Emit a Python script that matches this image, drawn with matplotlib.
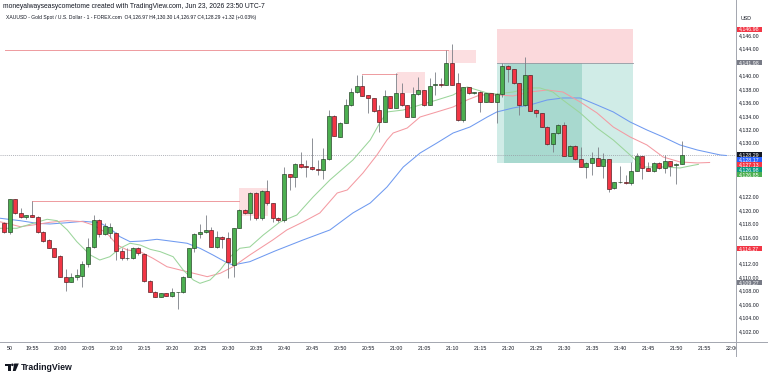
import matplotlib
matplotlib.use("Agg")
import matplotlib.pyplot as plt
from matplotlib.patches import Rectangle, Polygon, Circle

# one-minute XAUUSD bars from 19:50 to 21:51
opens = [4118.18, 4116.84, 4121.70, 4119.57, 4118.97, 4119.37, 4119.07, 4116.84, 4115.60, 4114.36,
         4113.22, 4110.15, 4109.40, 4110.05, 4110.29, 4111.98, 4114.56, 4118.58, 4116.45, 4116.59,
         4116.59, 4114.01, 4112.87, 4112.87, 4114.46, 4113.52, 4109.50, 4107.91, 4107.17, 4107.67,
         4107.32, 4107.81, 4107.86, 4110.15, 4114.36, 4116.45, 4116.74, 4117.09, 4114.61, 4116.10,
         4115.85, 4111.88, 4117.44, 4120.07, 4119.57, 4122.54, 4118.82, 4122.94, 4121.05, 4118.92,
         4118.57, 4125.37, 4124.92, 4126.91, 4126.51, 4126.51, 4126.11, 4126.01, 4127.60, 4134.05,
         4130.98, 4133.06, 4135.64, 4137.57, 4138.56, 4137.18, 4136.68, 4134.94, 4133.21, 4137.03,
         4135.29, 4137.52, 4135.64, 4133.95, 4137.28, 4137.92, 4135.69, 4138.66, 4138.71, 4138.66,
         4141.89, 4138.91, 4133.46, 4138.32, 4137.42, 4137.67, 4136.19, 4137.43, 4136.19, 4137.33,
         4141.54, 4141.00, 4138.92, 4135.69, 4140.16, 4134.95, 4134.45, 4132.47, 4129.84, 4131.48,
         4132.72, 4128.15, 4129.59, 4127.61, 4126.51, 4127.01, 4127.85, 4126.66, 4127.61, 4123.29,
         4124.18, 4124.28, 4124.03, 4125.92, 4128.10, 4126.27, 4125.87, 4127.01, 4126.27, 4127.36,
         4126.70, 4126.97]
highs = [4118.33, 4121.75, 4121.75, 4120.31, 4119.32, 4121.45, 4119.17, 4116.90, 4115.70, 4114.46,
         4113.30, 4111.24, 4110.64, 4111.24, 4112.48, 4115.85, 4119.32, 4118.68, 4118.18, 4118.08,
         4116.84, 4114.36, 4114.36, 4114.61, 4114.61, 4113.62, 4109.65, 4108.01, 4107.76, 4107.76,
         4108.41, 4107.91, 4110.24, 4114.46, 4116.59, 4117.93, 4119.32, 4117.59, 4116.94, 4116.20,
         4116.84, 4117.44, 4120.16, 4120.16, 4122.79, 4122.79, 4123.04, 4124.53, 4121.10, 4119.07,
         4126.51, 4125.45, 4127.11, 4128.74, 4127.50, 4130.73, 4127.50, 4129.24, 4134.94, 4134.15,
         4133.10, 4136.53, 4138.17, 4140.15, 4140.15, 4137.20, 4136.70, 4135.69, 4137.92, 4137.05,
         4140.40, 4138.91, 4135.69, 4138.42, 4139.90, 4137.95, 4139.66, 4140.65, 4139.66, 4143.87,
         4144.77, 4140.40, 4138.32, 4138.35, 4137.67, 4137.70, 4137.50, 4137.50, 4137.40, 4141.99,
         4141.60, 4141.05, 4138.95, 4142.88, 4140.20, 4135.05, 4134.50, 4132.57, 4131.57, 4132.81,
         4133.16, 4129.70, 4129.74, 4129.49, 4127.26, 4128.75, 4129.49, 4128.50, 4127.65, 4124.18,
         4126.66, 4125.28, 4127.26, 4128.50, 4128.15, 4127.26, 4127.26, 4127.26, 4128.25, 4127.40,
         4127.01, 4130.30]
lows = [4116.59, 4116.49, 4119.42, 4118.90, 4118.68, 4119.02, 4116.59, 4115.25, 4114.36, 4113.02,
        4110.05, 4108.06, 4109.35, 4109.65, 4108.66, 4111.63, 4114.46, 4116.10, 4116.35, 4115.85,
        4112.63, 4112.63, 4112.63, 4112.77, 4113.37, 4109.40, 4107.86, 4107.07, 4107.07, 4107.22,
        4107.17, 4105.28, 4107.76, 4110.05, 4113.87, 4115.85, 4116.69, 4114.56, 4114.46, 4114.36,
        4109.90, 4110.15, 4117.34, 4119.47, 4118.57, 4118.57, 4118.57, 4120.81, 4118.33, 4118.33,
        4118.33, 4123.04, 4123.53, 4126.26, 4125.02, 4126.01, 4125.27, 4124.63, 4127.50, 4131.00,
        4130.90, 4132.96, 4135.60, 4137.42, 4137.05, 4134.45, 4134.70, 4131.72, 4133.15, 4135.19,
        4135.19, 4135.60, 4133.85, 4133.85, 4137.18, 4135.59, 4135.65, 4137.18, 4138.42, 4138.60,
        4138.60, 4133.36, 4133.21, 4137.35, 4137.30, 4134.60, 4136.10, 4136.10, 4132.96, 4136.83,
        4139.16, 4138.85, 4134.20, 4135.54, 4134.80, 4133.86, 4132.37, 4129.74, 4128.75, 4131.38,
        4128.10, 4128.10, 4127.51, 4126.45, 4124.78, 4125.28, 4126.60, 4124.78, 4122.79, 4123.14,
        4124.03, 4124.00, 4123.79, 4125.87, 4124.63, 4125.80, 4125.77, 4126.12, 4125.52, 4125.18,
        4123.89, 4126.97]
closes = [4116.84, 4121.70, 4119.57, 4118.97, 4119.32, 4119.07, 4116.84, 4115.45, 4114.46, 4113.12,
          4110.15, 4109.40, 4110.15, 4110.39, 4111.98, 4114.56, 4118.58, 4116.45, 4117.73, 4117.59,
          4114.01, 4112.87, 4112.92, 4114.46, 4113.62, 4109.50, 4107.91, 4107.17, 4107.67, 4107.32,
          4107.81, 4107.86, 4110.15, 4114.36, 4116.45, 4116.74, 4117.09, 4114.61, 4116.00, 4115.75,
          4112.38, 4117.44, 4120.07, 4119.57, 4122.54, 4118.82, 4122.94, 4121.05, 4118.82, 4118.57,
          4125.37, 4124.92, 4126.91, 4126.41, 4126.46, 4126.11, 4126.06, 4127.60, 4134.05, 4131.07,
          4133.06, 4135.64, 4137.67, 4138.56, 4137.08, 4136.68, 4134.84, 4133.21, 4137.03, 4135.29,
          4137.52, 4135.64, 4133.95, 4137.28, 4137.92, 4135.69, 4138.56, 4138.71, 4138.66, 4141.89,
          4138.66, 4133.46, 4138.32, 4137.42, 4137.67, 4136.18, 4137.43, 4136.19, 4137.33, 4141.54,
          4141.00, 4138.92, 4135.69, 4140.16, 4134.85, 4134.45, 4132.47, 4129.84, 4131.48, 4132.72,
          4128.15, 4129.64, 4127.61, 4126.51, 4127.11, 4127.85, 4126.66, 4127.61, 4123.14, 4124.18,
          4124.20, 4124.03, 4125.92, 4128.10, 4126.27, 4125.87, 4127.01, 4126.27, 4127.36, 4126.66,
          4126.97, 4128.29]

# Alligator lines, minutes after 19:50 (they run past the last bar)
jaw_t = [-0.7, 2.9, 5.9, 8.2, 11.3, 14.1, 17.1, 18.9, 20.7, 22.5, 24.8, 27.3, 29.6, 32.7, 35.0, 37.3,
         39.8, 40.9, 43.9, 48.4, 53.4, 58.2, 62.3, 65.4, 68.4, 71.3, 74.3, 77.3, 80.2, 83.2, 86.3,
         88.0, 90.9, 93.9, 97.0, 99.8, 102.9, 105.9, 108.8, 111.8, 114.8, 117.7, 120.7, 123.8, 127.9, 129.0]
jaw_v = [4118.83, 4118.47, 4118.08, 4117.98, 4118.17, 4118.38, 4118.17, 4117.34, 4116.09, 4115.35,
         4115.45, 4115.70, 4115.45, 4115.11, 4114.36, 4113.37, 4112.22, 4111.88, 4112.37, 4113.96,
         4115.60, 4117.09, 4119.62, 4121.10, 4123.49, 4126.46, 4128.54, 4130.03, 4131.52, 4132.41,
         4133.90, 4134.65, 4135.24, 4135.69, 4136.43, 4136.73, 4136.73, 4135.69, 4134.65, 4133.16,
         4131.97, 4130.93, 4129.74, 4128.99, 4128.25, 4128.17]
teeth_t = [-0.7, 0.5, 2.9, 5.2, 8.2, 11.3, 14.1, 15.9, 18.4, 20.2, 22.0, 24.3, 26.6, 29.1, 32.7, 36.3,
           38.6, 40.9, 43.9, 48.0, 50.5, 53.4, 56.4, 59.5, 61.3, 64.1, 66.6, 68.4, 69.5, 72.0, 74.3,
           77.3, 80.2, 82.7, 85.0, 88.0, 90.9, 93.9, 97.0, 99.8, 102.9, 105.9, 108.8, 111.8, 114.8,
           117.7, 120.7, 123.8, 126.0]
teeth_v = [4118.30, 4118.08, 4117.58, 4117.83, 4118.23, 4118.47, 4118.32, 4117.83, 4116.60, 4114.85,
           4114.11, 4113.86, 4112.87, 4111.62, 4110.88, 4110.14, 4110.64, 4111.62, 4113.37, 4115.60,
           4117.09, 4118.28, 4119.62, 4122.59, 4123.04, 4125.57, 4128.25, 4130.48, 4131.52, 4132.26,
           4133.90, 4134.65, 4135.39, 4136.43, 4137.18, 4137.18, 4137.03, 4137.62, 4137.92, 4137.62,
           4136.13, 4134.50, 4132.41, 4130.93, 4129.74, 4127.95, 4127.21, 4127.06, 4127.13]
lips_t = [-0.7, 0.5, 2.3, 5.2, 7.7, 9.5, 11.3, 13.0, 15.4, 17.1, 18.9, 20.7, 22.5, 24.3, 26.1, 27.9,
          30.2, 32.0, 33.8, 35.0, 36.8, 38.6, 40.4, 42.1, 43.9, 46.3, 49.3, 52.3, 55.2, 58.2, 62.3,
          65.4, 67.1, 68.4, 71.3, 74.3, 77.3, 80.2, 82.7, 84.5, 86.3, 88.0, 90.9, 93.9, 95.7, 98.0,
          99.8, 102.9, 105.9, 108.8, 111.8, 114.1, 117.7, 120.7, 123.0, 124.0]
lips_v = [4117.34, 4117.34, 4117.34, 4118.08, 4118.68, 4118.47, 4117.09, 4115.35, 4113.37, 4112.62,
          4113.11, 4114.36, 4115.11, 4114.85, 4114.21, 4113.86, 4113.11, 4111.13, 4109.65, 4109.15,
          4109.65, 4111.13, 4113.11, 4114.36, 4114.56, 4116.34, 4118.28, 4119.32, 4122.00, 4124.53,
          4127.50, 4130.48, 4133.01, 4134.65, 4134.94, 4135.69, 4136.43, 4137.18, 4138.37, 4137.92,
          4137.47, 4137.32, 4137.62, 4138.22, 4138.22, 4137.62, 4136.43, 4134.50, 4132.26, 4130.48,
          4128.25, 4126.46, 4126.46, 4126.31, 4126.70, 4126.85]

# rays drawn from swing highs, each ending in a shaded box
ray_level = [4121.45, 4140.30, 4143.80]
ray_from = [5.0, 64.0, 0.2]
ray_to = [42.0, 70.2, 79.3]
box_to = [47.2, 75.2, 84.3]
box_top = [4123.34, 4140.64, 4143.87]
box_bot = [4119.17, 4137.43, 4141.94]

# short position tool
pos_from, pos_to = 88.0, 112.3
hit_from, hit_to = 89.2, 103.2
pos_stop, pos_entry, pos_target = 4146.98, 4141.98, 4126.98

last_price = 4128.29
price_ticks = list(range(4102, 4148, 2))
hidden_ticks = [4142, 4128, 4126, 4124, 4114]

scale_prices = [4146.98, 4141.98, 4128.29, 4128.17, 4127.13, 4126.98, 4126.85, 4114.27, 4109.27]
scale_colors = ["#f23645", "#787b86", "#131722", "#2962ff", "#f23645", "#089981", "#4caf50",
                "#f23645", "#787b86"]

time_minutes = list(range(5, 135, 5))

title_1 = "moneyalwayseasycometome created with TradingView.com, Jun 23, 2026 23:50 UTC-7"
title_2 = ("XAUUSD - Gold Spot / U.S. Dollar - 1 - FOREX.com  "
           "O4,126.97 H4,130.30 L4,126.97 C4,128.29 +1.32 (+0.03%)")

# ---------------------------------------------------------------------
W, H = 768, 380
PLOT_R, PLOT_B = 736, 342
X0, DX = 4.0, 5.6          # px of first bar, px per bar
Y_TOP = 4151.31
PX_PER_USD = 6.72
Y_BOT = Y_TOP - PLOT_B / PX_PER_USD

plt.rcParams["font.family"] = ["Liberation Sans", "DejaVu Sans"]

fig = plt.figure(figsize=(W / 100, H / 100), dpi=100)
fig.patch.set_facecolor("white")

ax = fig.add_axes([0, (H - PLOT_B) / H, PLOT_R / W, PLOT_B / H])
ax.set_xlim(-X0 / DX, (PLOT_R - X0) / DX)
ax.set_ylim(Y_BOT, Y_TOP)
ax.axis("off")

# position tool
ax.add_patch(Rectangle((pos_from, pos_entry), pos_to - pos_from, pos_stop - pos_entry,
                       fc="#fbd9dc", ec="none", zorder=1))
ax.add_patch(Rectangle((pos_from, pos_target), pos_to - pos_from, pos_entry - pos_target,
                       fc="#d0ece7", ec="none", zorder=1))
ax.add_patch(Rectangle((hit_from, pos_target), hit_to - hit_from, pos_entry - pos_target,
                       fc="#a8d9cf", ec="none", zorder=1))
ax.plot([pos_from, pos_to], [pos_entry, pos_entry], color="#9598a1", lw=0.6, zorder=1.5)

# rays and boxes
for lvl, a, b, bt, top, bot in zip(ray_level, ray_from, ray_to, box_to, box_top, box_bot):
    ax.plot([a, b], [lvl, lvl], color="#ee9a9f", lw=0.7, zorder=2)
    ax.add_patch(Rectangle((b, bot), bt - b, top - bot, fc="#fcdfe1", ec="none", zorder=1.2))

# last price line
ax.axhline(last_price, color="#9598a1", lw=0.5, ls=(0, (1.5, 1.5)), zorder=1.5)

# alligator
ax.plot(jaw_t, jaw_v, color="#6f9af0", lw=0.75, zorder=2.5)
ax.plot(teeth_t, teeth_v, color="#f49aa2", lw=0.75, zorder=2.5)
ax.plot(lips_t, lips_v, color="#9bd59b", lw=0.75, zorder=2.5)

# candles
body_w = 0.72
for i, (o, h, l, c) in enumerate(zip(opens, highs, lows, closes)):
    up = c >= o
    ax.vlines(i, l, h, color="#7b7e86", lw=0.6, zorder=3)
    bot = min(o, c)
    ht = max(abs(c - o), 0.12)
    ax.add_patch(Rectangle((i - body_w / 2, bot), body_w, ht,
                           fc="#4caf50" if up else "#f23645",
                           ec="#1d3b1f" if up else "#4a1519", lw=0.45, zorder=4))

# price scale
axp = fig.add_axes([PLOT_R / W, (H - PLOT_B) / H, (W - PLOT_R) / W, PLOT_B / H])
axp.set_xlim(0, W - PLOT_R)
axp.set_ylim(Y_BOT, Y_TOP)
axp.axis("off")
for p in price_ticks:
    if p in hidden_ticks:
        continue
    axp.text(3.3, p, f"{p:,.2f}", fontsize=3.8, color="#131722", va="center", ha="left")
axp.text(4.5, Y_TOP - 18 / PX_PER_USD, "USD", fontsize=3.8, color="#131722", va="center", ha="left")

# stack the coloured labels so they do not overlap
lab_h = 5.0 / PX_PER_USD
prev = None
for p, col in zip(scale_prices, scale_colors):
    y = p if prev is None else min(p, prev - lab_h)
    prev = y
    axp.add_patch(Rectangle((0.7, y - lab_h / 2), 25, lab_h, fc=col, ec="none", zorder=5))
    axp.text(13.2, y, f"{p:,.2f}", fontsize=3.8, color="white", va="center", ha="center", zorder=6)

# time scale (the 19:50 mark only shows its minutes at the left edge)
axt = fig.add_axes([0, (H - 356) / H, PLOT_R / W, 14 / H])
axt.set_xlim(-X0 / DX, (PLOT_R - X0) / DX)
axt.set_ylim(0, 1)
axt.axis("off")
axt.text(0.55, 0.5, "50", fontsize=3.8, color="#131722", ha="left", va="center")
for m in time_minutes:
    hh = 19 + (50 + m) // 60
    mm = (50 + m) % 60
    axt.text(m, 0.5, f"{hh}:{mm:02d}", fontsize=3.8, color="#131722",
             ha="center", va="center", clip_on=True)

# frame lines, titles and logo in pixel space
ov = fig.add_axes([0, 0, 1, 1], zorder=10)
ov.set_xlim(0, W)
ov.set_ylim(H, 0)
ov.axis("off")
ov.patch.set_alpha(0)
ov.plot([0, W], [PLOT_B, PLOT_B], color="#a3a6af", lw=0.7)
ov.plot([PLOT_R, PLOT_R], [0, 356], color="#a3a6af", lw=0.7)

ov.text(3, 7, title_1, fontsize=4.85, color="#131722", va="center", ha="left")
ov.text(6, 17.5, title_2, fontsize=3.62, color="#131722", va="center", ha="left")

ov.add_patch(Rectangle((5, 363.5), 5.5, 2.6, fc="#131722", ec="none"))
ov.add_patch(Rectangle((7.9, 363.5), 2.6, 7.5, fc="#131722", ec="none"))
ov.add_patch(Circle((12.4, 364.8), 1.3, fc="#131722", ec="none"))
ov.add_patch(Polygon([(14.2, 363.5), (18.8, 363.5), (15.6, 371), (12.8, 371)], fc="#131722", ec="none"))
ov.text(21, 367.4, "TradingView", fontsize=6.3, fontweight="bold", color="#131722",
        va="center", ha="left")

fig.savefig("out.png", dpi=100, facecolor="white")
